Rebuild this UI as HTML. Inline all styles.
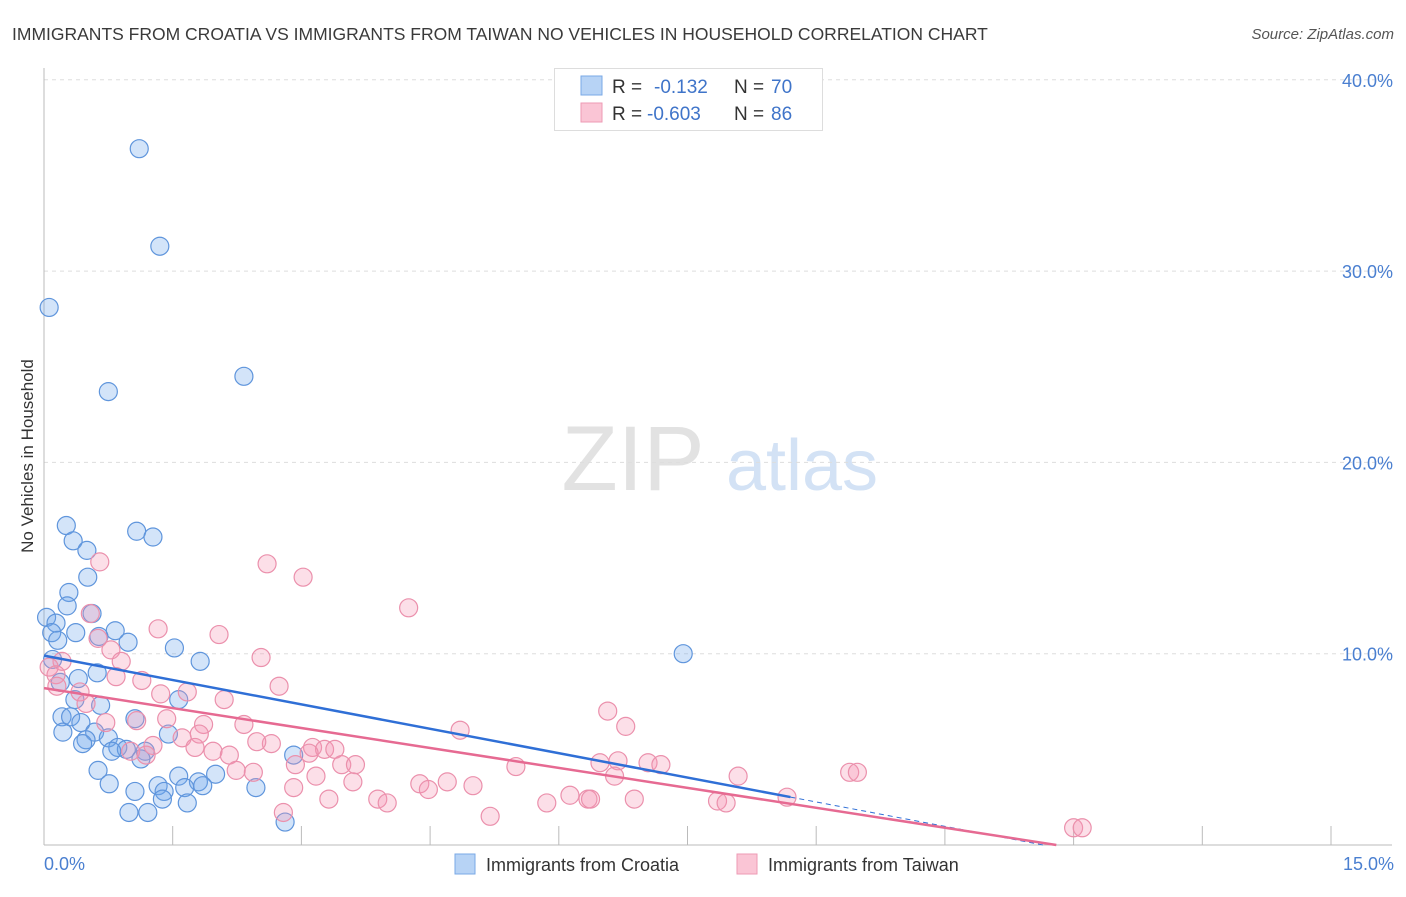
<!DOCTYPE html>
<html><head><meta charset="utf-8"><style>
body{margin:0;background:#fff;font-family:"Liberation Sans",sans-serif}
svg text{font-family:"Liberation Sans",sans-serif}
</style></head><body>
<svg width="1406" height="892" xmlns="http://www.w3.org/2000/svg">
<text x="12" y="40" font-size="17.5" fill="#3a3a3a">IMMIGRANTS FROM CROATIA VS IMMIGRANTS FROM TAIWAN NO VEHICLES IN HOUSEHOLD CORRELATION CHART</text>
<text x="1394" y="39" font-size="15" fill="#555" font-style="italic" text-anchor="end">Source: ZipAtlas.com</text>
<text transform="translate(33,456) rotate(-90)" font-size="17" fill="#333" text-anchor="middle">No Vehicles in Household</text>
<g><text x="633" y="490" font-size="92" fill="#e2e2e2" text-anchor="middle" font-family="Liberation Serif">ZIP</text><text x="802" y="490" font-size="72" fill="#d3e2f5" text-anchor="middle">atlas</text></g>
<g id="grid"></g><g id="axes"></g><g id="pts"></g><g id="lines"></g>
<g>
<rect x="554.5" y="68.5" width="268" height="62" fill="#fff" stroke="#ddd"/>
<rect x="581" y="76" width="21" height="19" fill="#b7d3f5" stroke="#7aa8e6"/>
<rect x="581" y="103" width="21" height="19" fill="#fac5d5" stroke="#ee9ab4"/>
<text x="612" y="93" font-size="19" fill="#333">R = </text><text x="654" y="93" font-size="19" fill="#3f74c9">-0.132</text>
<text x="734" y="93" font-size="19" fill="#333">N = </text><text x="771" y="93" font-size="19" fill="#3f74c9">70</text>
<text x="612" y="120" font-size="19" fill="#333">R = </text><text x="647" y="120" font-size="19" fill="#3f74c9">-0.603</text>
<text x="734" y="120" font-size="19" fill="#333">N = </text><text x="771" y="120" font-size="19" fill="#3f74c9">86</text>
</g>
<g>
<rect x="455" y="854" width="20" height="20" fill="#b7d3f5" stroke="#7aa8e6"/>
<text x="486" y="871" font-size="18" fill="#333">Immigrants from Croatia</text>
<rect x="737" y="854" width="20" height="20" fill="#fac5d5" stroke="#ee9ab4"/>
<text x="768" y="871" font-size="18" fill="#333">Immigrants from Taiwan</text>
</g>
</svg>
<script>
const yTicks=[10,20,30,40];
const xTickLabels=["0.0%","15.0%"];
const blueX=[1.11,1.35,0.06,2.33,0.75,0.26,1.08,1.27,0.34,0.50,0.51,0.29,0.27,0.56,0.03,0.14,0.09,0.37,0.83,0.16,0.64,0.98,1.52,7.45,1.82,0.10,0.62,0.40,0.19,1.57,0.66,0.36,0.21,0.31,1.06,0.43,1.45,0.59,0.22,0.75,0.49,0.45,0.86,0.96,0.79,1.18,2.91,1.13,0.63,0.76,1.57,2.00,1.80,1.33,1.64,1.85,2.47,1.06,1.40,1.38,1.67,0.99,1.21,2.81];
const blueY=[36.4,31.3,28.1,24.5,23.7,16.7,16.4,16.1,15.9,15.4,14.0,13.2,12.5,12.1,11.9,11.6,11.1,11.1,11.2,10.7,10.9,10.6,10.3,10.0,9.6,9.7,9.0,8.7,8.5,7.6,7.3,7.6,6.7,6.7,6.6,6.4,5.8,5.9,5.9,5.6,5.5,5.3,5.1,5.0,4.9,4.9,4.7,4.5,3.9,3.2,3.6,3.7,3.3,3.1,3.0,3.1,3.0,2.8,2.8,2.4,2.2,1.7,1.7,1.2];
const pinkX=[0.65,2.60,3.02,0.54,4.25,1.33,2.04,0.63,0.78,2.53,0.90,0.21,0.06,0.14,0.84,1.14,2.74,0.15,0.42,1.36,1.67,0.49,2.10,6.57,1.08,1.43,0.72,6.78,1.86,2.33,4.85,1.61,1.81,2.65,2.48,1.27,1.76,1.01,1.97,2.16,3.13,3.27,3.39,3.09,1.19,2.93,3.47,3.63,5.50,6.48,6.69,7.04,7.19,2.24,2.44,3.17,3.60,4.38,4.70,5.00,4.48,2.91,6.65,8.09,9.39,9.48,3.89,4.00,3.32,6.13,6.34,6.37,6.88,5.86,7.85,7.95,8.66,2.79,5.20,12.0,12.1];
const pinkY=[14.8,14.7,14.0,12.1,12.4,11.3,11.0,10.8,10.2,9.8,9.6,9.6,9.3,8.9,8.8,8.6,8.3,8.3,8.0,7.9,8.0,7.4,7.6,7.0,6.5,6.6,6.4,6.2,6.3,6.3,6.0,5.6,5.8,5.3,5.4,5.2,5.1,4.9,4.9,4.7,5.1,5.0,5.0,4.8,4.7,4.2,4.2,4.2,4.1,4.3,4.4,4.3,4.2,3.9,3.8,3.6,3.3,3.2,3.3,3.1,2.9,3.0,3.6,3.6,3.8,3.8,2.4,2.2,2.4,2.6,2.4,2.4,2.4,2.2,2.3,2.2,2.5,1.7,1.5,0.9,0.9];
const blueTrend=[9.9,-0.85]; const pinkTrend=[8.2,-0.695];
const X=v=>44+v*85.8, Y=v=>845-v*19.13;
const NS="http://www.w3.org/2000/svg";
function mk(t,a,p){const e=document.createElementNS(NS,t);for(const k in a)e.setAttribute(k,a[k]);document.getElementById(p).appendChild(e);return e;}
yTicks.forEach(t=>{
 const l=mk('line',{x1:44,x2:1392,y1:Y(t),y2:Y(t),stroke:'#ddd','stroke-dasharray':'4,4'},'grid');
 
 
 const tx=mk('text',{x:1393,y:Y(t)+7,'font-size':18,fill:'#4a7fd0','text-anchor':'end'},'grid');
 tx.textContent=t.toFixed(1)+'%';
 
 
});
const ya=mk('line',{x1:44,x2:44,y1:68,y2:845,stroke:'#bbb'},'axes');


const xa=mk('line',{x1:44,x2:1392,y1:845,y2:845,stroke:'#bbb'},'axes');


for(let i=1;i<=10;i++){const tk=mk('line',{x1:X(i*1.5),x2:X(i*1.5),y1:826,y2:845,stroke:'#bbb'},'axes');
 
 }
const xl0=mk('text',{x:44,y:870,'font-size':18,fill:'#4a7fd0'},'axes');xl0.textContent=xTickLabels[0];


const xl1=mk('text',{x:1394,y:870,'font-size':18,fill:'#4a7fd0','text-anchor':'end'},'axes');xl1.textContent=xTickLabels[1];


blueX.forEach((x,i)=>{const c=mk('circle',{cx:X(x),cy:Y(blueY[i]),r:9,fill:'rgba(110,165,235,0.3)',stroke:'#5f95dc','stroke-width':1.2},'pts');
 
 });
pinkX.forEach((x,i)=>{const c=mk('circle',{cx:X(x),cy:Y(pinkY[i]),r:9,fill:'rgba(245,150,180,0.3)',stroke:'#eb90ac','stroke-width':1.2},'pts');
 
 });
const bEnd=8.7, bZero=-blueTrend[0]/blueTrend[1];
const bl=mk('line',{x1:X(0),y1:Y(blueTrend[0]),x2:X(bEnd),y2:Y(blueTrend[0]+blueTrend[1]*bEnd),stroke:'#2f6fd6','stroke-width':2.5},'lines');


const bd=mk('line',{x1:X(bEnd),y1:Y(blueTrend[0]+blueTrend[1]*bEnd),x2:X(bZero),y2:Y(0),stroke:'#2f6fd6','stroke-width':1,'stroke-dasharray':'5,4'},'lines');


const pZero=-pinkTrend[0]/pinkTrend[1];
const pl=mk('line',{x1:X(0),y1:Y(pinkTrend[0]),x2:X(pZero),y2:Y(0),stroke:'#e66a92','stroke-width':2.5},'lines');


</script>
</body></html>
